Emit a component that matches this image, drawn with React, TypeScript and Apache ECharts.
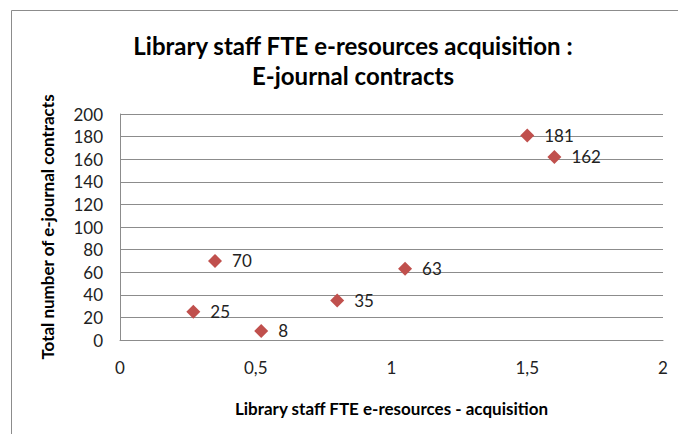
import React, { useEffect, useRef } from "react";
import * as echarts from "echarts";

const xValues = [0.27, 0.35, 0.52, 0.8, 1.05, 1.5, 1.6];
const yValues = [25, 70, 8, 35, 63, 181, 162];
const titleLines = ["Library staff FTE e-resources acquisition :", "E-journal contracts"];
const xAxisTitle = "Library staff FTE e-resources - acquisition";
const yAxisTitle = "Total number of e-journal contracts";

const FONT = "Lato, 'Liberation Sans', sans-serif";

export default function App() {
  const ref = useRef<HTMLDivElement>(null);
  useEffect(() => {
    if (!ref.current) return;
    const chart = echarts.init(ref.current, undefined, { renderer: "svg" });
    const data = xValues.map((x, i) => [x, yValues[i]]);
    chart.setOption({
      animation: false,
      backgroundColor: "#ffffff",
      textStyle: { fontFamily: FONT },
      graphic: [
        {
          type: "rect",
          shape: { x: 11.5, y: 10.5, width: 800, height: 600 },
          style: { fill: "none", stroke: "#8c8c8c", lineWidth: 1 },
          silent: true,
        },
        {
          type: "text",
          x: 353,
          y: 45,
          style: {
            text: titleLines[0],
            font: `bold 24px ${FONT}`,
            fill: "#000",
            textAlign: "center",
            textVerticalAlign: "middle",
          },
        },
        {
          type: "text",
          x: 353,
          y: 75,
          style: {
            text: titleLines[1],
            font: `bold 24px ${FONT}`,
            fill: "#000",
            textAlign: "center",
            textVerticalAlign: "middle",
          },
        },
      ],
      grid: { left: 120, right: 15, top: 114, bottom: 94 },
      xAxis: {
        type: "value",
        min: 0,
        max: 2,
        interval: 0.5,
        name: xAxisTitle,
        nameLocation: "middle",
        nameGap: 60,
        nameTextStyle: { fontSize: 17, fontWeight: "bold", color: "#000", fontFamily: FONT, verticalAlign: "top" },
        axisLine: { show: true, lineStyle: { color: "#8c8c8c" } },
        axisTick: { show: false },
        splitLine: { show: false },
        axisLabel: {
          margin: 19,
          fontSize: 17,
          color: "#222",
          formatter: (v: number) => String(v).replace(".", ","),
        },
      },
      yAxis: {
        type: "value",
        min: 0,
        max: 200,
        interval: 20,
        name: yAxisTitle,
        nameLocation: "middle",
        nameGap: 64,
        nameTextStyle: { fontSize: 17, fontWeight: "bold", color: "#000", fontFamily: FONT },
        axisLine: { show: true, lineStyle: { color: "#8c8c8c" } },
        axisTick: { show: false },
        splitLine: { show: true, lineStyle: { color: "#8c8c8c" } },
        axisLabel: { margin: 17, fontSize: 17, color: "#222" },
      },
      series: [
        {
          type: "scatter",
          symbol: "diamond",
          symbolSize: 14,
          itemStyle: { color: "#C0504D", opacity: 1 },
          data,
          label: {
            show: true,
            position: "right",
            distance: 10,
            fontSize: 17,
            color: "#222",
            formatter: (p: any) => String(p.value[1]),
          },
        },
      ],
    });
    return () => chart.dispose();
  }, []);
  return (
    <div
      ref={ref}
      style={{ position: "absolute", left: 0, top: 0, width: 678, height: 434 }}
    />
  );
}
